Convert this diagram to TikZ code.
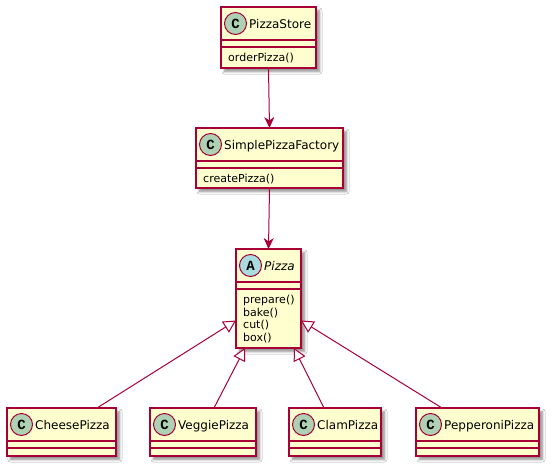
\documentclass[tikz,border=0pt]{standalone}
\usepackage{fontspec}
\setmainfont{DejaVu Sans}
\newfontfamily\iconfont{Liberation Mono}
\usetikzlibrary{arrows.meta, shadows.blur}

\definecolor{umlborder}{HTML}{A80036}
\definecolor{umlfill}{HTML}{FEFECE}
\definecolor{classicon}{HTML}{ADD1B2}
\definecolor{abstracticon}{HTML}{A9DCDF}

\tikzset{
    classbox/.style={draw=umlborder, fill=umlfill, line width=1.2pt, inner sep=0pt, outer sep=0pt,
        anchor=north west, blur shadow={shadow xshift=3.5pt, shadow yshift=-3.5pt,
        shadow blur radius=2.5pt, shadow blur steps=6, shadow opacity=45}},
    sepline/.style={draw=umlborder, line width=1.2pt},
    icon/.style={circle, draw=umlborder, line width=1pt, minimum size=22pt, inner sep=0pt,
        font=\iconfont\bfseries\fontsize{14}{14}\selectfont},
    classname/.style={anchor=base west, inner sep=0pt, font=\fontsize{12}{14}\selectfont},
    methods/.style={anchor=base west, inner sep=0pt, font=\fontsize{11}{13}\selectfont},
    uses/.style={draw=umlborder, line width=1pt, -{Stealth[length=11pt, width=10pt, inset=3.5pt]}},
    extends/.style={draw=umlborder, line width=1pt, -{Triangle[open, length=12.5pt, width=13pt, fill=white]}}
}

\begin{document}
\begin{tikzpicture}[x=1pt, y=-1pt]
    \fill[white] (0, 0) rectangle (552, 469);
    \useasboundingbox (0, 0) rectangle (552, 469);

    % class boxes
    \node[classbox, minimum width=95pt, minimum height=61pt] (store) at (221, 7) {};
    \node[classbox, minimum width=147pt, minimum height=60pt] (factory) at (196, 128) {};
    \node[classbox, minimum width=65pt, minimum height=99pt] (pizza) at (236, 249) {};
    \node[classbox, minimum width=109pt, minimum height=48pt] (cheese) at (7, 408) {};
    \node[classbox, minimum width=106pt, minimum height=48pt] (veggie) at (150, 408) {};
    \node[classbox, minimum width=92pt, minimum height=48pt] (clam) at (289, 408) {};
    \node[classbox, minimum width=123pt, minimum height=48pt] (pepperoni) at (416, 408) {};

    % compartments
    \foreach \cls in {store, factory, pizza, cheese, veggie, clam, pepperoni} {
        \draw[sepline] ([yshift=-33pt]\cls.north west) -- ([yshift=-33pt]\cls.north east);
        \draw[sepline] ([yshift=-40pt]\cls.north west) -- ([yshift=-40pt]\cls.north east);
    }

    % icons and names
    \foreach \cls/\title in {store/PizzaStore, factory/SimplePizzaFactory, cheese/CheesePizza,
            veggie/VeggiePizza, clam/ClamPizza, pepperoni/PepperoniPizza} {
        \node[icon, fill=classicon] (\cls icon) at ([xshift=14.5pt, yshift=-16.5pt]\cls.north west) {C};
        \node[classname] (\cls name) at ([xshift=28pt, yshift=-21pt]\cls.north west) {\title};
    }
    \node[icon, fill=abstracticon] (pizzaicon) at ([xshift=14.5pt, yshift=-16.5pt]pizza.north west) {A};
    \node[classname, font=\fontsize{12}{14}\selectfont\itshape] (pizzaname)
        at ([xshift=28pt, yshift=-21pt]pizza.north west) {Pizza};

    % methods
    \node[methods] (storem) at ([xshift=7pt, yshift=-54.5pt]store.north west) {orderPizza()};
    \node[methods] (factorym) at ([xshift=7pt, yshift=-54pt]factory.north west) {createPizza()};
    \foreach \m [count=\i] in {prepare(), bake(), cut(), box()}
        \node[methods] (pizzam\i) at ([xshift=7pt, yshift={-54.3pt-12.8pt*(\i-1)}]pizza.north west) {\m};

    % associations
    \draw[uses] (store.south) -- (factory.north);
    \draw[uses] (factory.south) -- (pizza.north);

    % generalizations
    \draw[extends] ([xshift=35.5pt]cheese.north) -- ([yshift=-22pt]pizza.west);
    \draw[extends] ([xshift=11pt]veggie.north) -- ([xshift=-23.5pt]pizza.south);
    \draw[extends] ([xshift=-11pt]clam.north) -- ([xshift=25.5pt]pizza.south);
    \draw[extends] ([xshift=-35.5pt]pepperoni.north) -- ([yshift=-22pt]pizza.east);
\end{tikzpicture}
\end{document}
